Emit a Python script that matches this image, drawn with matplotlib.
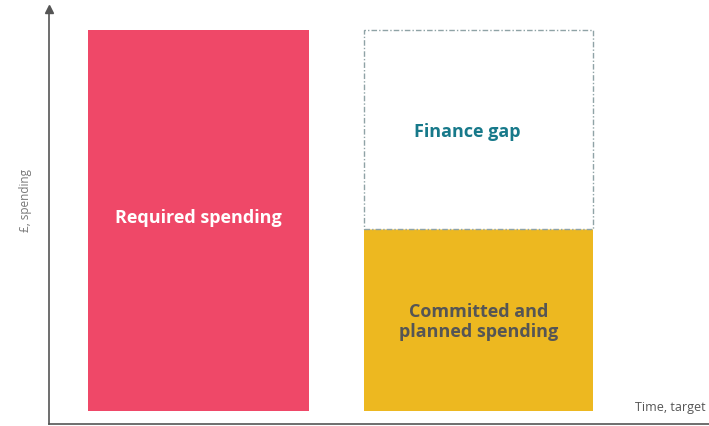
import matplotlib
matplotlib.use("Agg")
import matplotlib.pyplot as plt

categories = ["Required spending", "Committed and\nplanned spending"]
required = [100.0, 0.0]
committed = [0.0, 47.8]
gap = [0.0, 52.2]
bar_widths = [221 / 280, 229 / 280]
positions = [0, 1]

plt.rcParams['font.family'] = ['Open Sans', 'DejaVu Sans']

fig = plt.figure(figsize=(7.09, 4.27), dpi=100)
W, H = 709, 427
ax = fig.add_axes([49 / W, (H - 425) / H, (709 - 49) / W, (425 - 10) / H])

red = "#EF4868"
yellow = "#EDB820"
axis_col = "#555555"

ax.bar(positions[0], required[0], width=bar_widths[0], color=red, zorder=2)
ax.bar(positions[1], committed[1], width=bar_widths[1], color=yellow, zorder=2)
ax.bar(positions[1], gap[1], width=bar_widths[1], bottom=committed[1],
       facecolor="white", edgecolor="#8fa3a6", linewidth=1.0,
       linestyle=(0, (4, 1.5, 1, 1.5)), zorder=2)

ax.set_xlim(-0.534, 1.823)
ax.set_ylim(-3.4, 105.5)

for s in ["top", "right"]:
    ax.spines[s].set_visible(False)
ax.spines["left"].set_color(axis_col)
ax.spines["bottom"].set_color(axis_col)
ax.spines["left"].set_linewidth(1.2)
ax.spines["bottom"].set_linewidth(1.2)
ax.set_xticks([])
ax.set_yticks([])

# arrow head on y axis
ax.plot([-0.534], [105.5], marker="^", color=axis_col, markersize=6,
        clip_on=False, zorder=3)

ax.text(positions[0], required[0] * 0.508, categories[0], ha="center", va="center",
        color="white", fontsize=13, fontweight="bold", zorder=3)
ax.text(positions[1], committed[1] * 0.495, categories[1], ha="center", va="center",
        color="#555555", fontsize=13, fontweight="bold", linespacing=1.15, zorder=3)
ax.text(positions[1] - 0.041, committed[1] + gap[1] * 0.49, "Finance gap", ha="center",
        va="center", color="#17798a", fontsize=13, fontweight="bold", zorder=3)

fig.text(25 / W, 1 - 200 / H, "£, spending", rotation=90, ha="center", va="center",
         color="#777777", fontsize=8.5)
fig.text(670 / W, 1 - 408 / H, "Time, target", ha="center", va="center",
         color="#555555", fontsize=9)

fig.savefig("out.png", dpi=100)
